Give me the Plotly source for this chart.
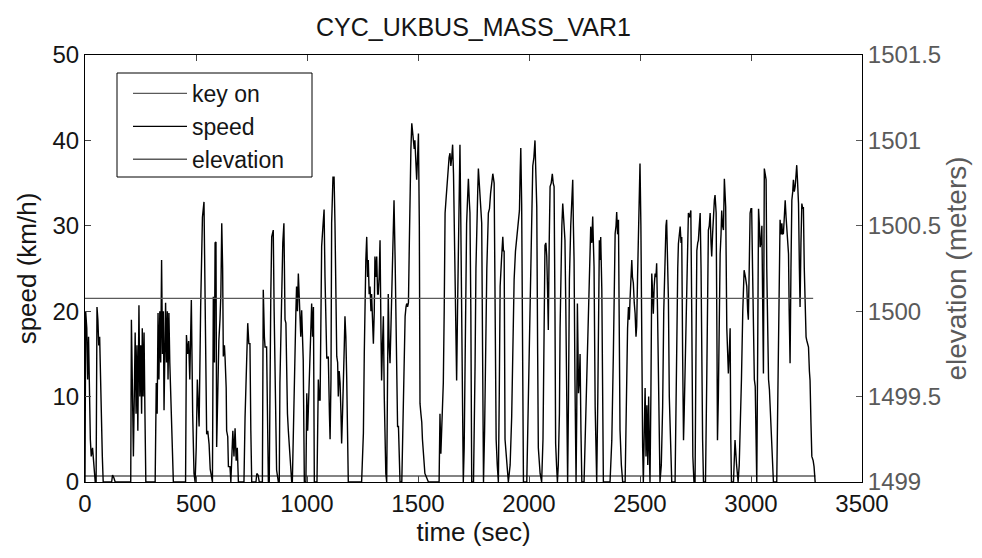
import plotly.graph_objects as go

# ---- data ----
speed_points = [
    (0, 0), (3, 20), (8, 18), (12, 12), (16, 17), (20, 8), (24, 5), (28, 3), (34, 4), (40, 2), (46, 0),
    (50, 0), (54, 20.5), (58, 19), (62, 16), (66, 17), (70, 11), (74, 8), (78, 3), (82, 0),
    (120, 0), (124, 0.8), (130, 0.5), (136, 0), (205, 0),
    (206, 0), (209, 19), (213, 12), (218, 3), (222, 10), (226, 17.5), (230, 8), (234, 16), (238, 6),
    (243, 20.7), (247, 10), (251, 16), (255, 8), (258, 18), (262, 10), (266, 17.5), (270, 8), (274, 0),
    (316, 0), (321, 11.6), (325, 8), (329, 19.8), (333, 12), (337, 20), (341, 14), (345, 26), (349, 15),
    (353, 20), (356, 8.4), (360, 18), (363, 21), (367, 14), (371, 20), (374, 12), (378, 19.8), (382, 14),
    (386, 10), (389, 6.9), (393, 3), (398, 0),
    (453, 0), (457, 17.2), (462, 15), (467, 16.5), (472, 12), (479, 21.3), (485, 8), (491, 1), (496, 0),
    (501, 4), (506, 12), (514, 6.5), (521, 20.5), (529, 31), (536, 32.8), (539, 26.6), (544, 15),
    (548, 5.6), (553, 6), (559, 4.4), (564, 1.5), (570, 0.5), (574, 0), (578, 21.7), (583, 14), (586, 28),
    (590, 28.1), (593, 4.1), (598, 12), (603, 16.6), (608, 19), (612, 22), (616, 30.3), (620, 25),
    (623, 14.7), (628, 16), (631, 14.5), (636, 11), (638, 6), (643, 5.3), (646, 1.8), (653, 1.8), (657, 0),
    (661, 2.5), (666, 6), (671, 3), (676, 6.3), (681, 2.5), (686, 4), (691, 0),
    (716, 0), (721, 7.6), (727, 12), (733, 18.6), (738, 16.2), (743, 16.2), (747, 6), (751, 0),
    (770, 0), (774, 1), (780, 0.8), (785, 0),
    (799, 0), (803, 22.5), (808, 17), (811, 15.8), (818, 15.8), (822, 8), (826, 0),
    (830, 0), (833, 14.5), (837, 22), (841, 28.7), (848, 29.5), (852, 20), (856, 10.7), (859, 3.3),
    (863, 1.4), (871, 0),
    (875, 0), (878, 11.6), (882, 18), (886, 25.2), (891, 28), (896, 30.3), (901, 19), (905, 18.6),
    (908, 10.4), (912, 8), (916, 6), (923, 3), (931, 0),
    (934, 0), (938, 6), (942, 12), (946, 17), (950, 20), (953, 22.9), (957, 20), (961, 24.4), (965, 22),
    (968, 20.9), (972, 17), (976, 20.1), (980, 14.3), (983, 14.3), (988, 0),
    (995, 0), (999, 10.4), (1003, 6), (1006, 8.4), (1010, 12), (1014, 16.6), (1018, 18), (1021, 20.9),
    (1025, 17), (1029, 20.5), (1033, 0),
    (1045, 0), (1051, 12), (1055, 9.6), (1059, 9.6), (1063, 20), (1066, 27.6), (1072, 30), (1077, 31.9),
    (1081, 24.1), (1085, 20), (1089, 14.5), (1093, 14.5), (1096, 14.7), (1101, 8), (1104, 5), (1108, 12),
    (1111, 30.3), (1117, 35.7), (1122, 35.7), (1126, 30.3), (1130, 22), (1134, 14.7), (1138, 14),
    (1141, 10), (1145, 13), (1149, 11.6), (1153, 8), (1156, 4.5), (1160, 8), (1164, 11), (1168, 16),
    (1171, 19.4), (1175, 17), (1179, 12), (1183, 5), (1186, 0),
    (1246, 0), (1250, 3), (1254, 5.7), (1258, 15), (1261, 22), (1265, 26), (1269, 28.7), (1273, 24),
    (1276, 26), (1280, 22), (1284, 22.9), (1288, 20), (1291, 22), (1295, 18), (1299, 16.2), (1303, 20),
    (1306, 26.4), (1310, 24), (1314, 26.4), (1318, 22), (1321, 22), (1325, 24), (1329, 28.3), (1333, 18),
    (1336, 11.9), (1340, 16), (1344, 19.4), (1348, 10), (1351, 4.5), (1355, 1), (1359, 0), (1362, 10),
    (1366, 22), (1370, 16), (1374, 13.9), (1378, 18), (1381, 22), (1386, 27), (1392, 33), (1397, 26),
    (1401, 17), (1404, 8.8), (1408, 6.5), (1412, 6.5), (1416, 3), (1419, 0), (1427, 0), (1431, 5),
    (1434, 10.8), (1438, 15), (1442, 19.4), (1446, 20.5), (1449, 20.9), (1453, 20.5), (1457, 21),
    (1461, 28), (1464, 35.4), (1468, 39), (1472, 42), (1476, 41), (1479, 40.4), (1483, 39), (1486, 40),
    (1490, 38), (1494, 35.4), (1498, 38), (1502, 40.8), (1506, 30), (1509, 9.2), (1513, 8), (1517, 7),
    (1520, 5), (1524, 3), (1531, 1), (1539, 0.5), (1547, 0),
    (1595, 0), (1599, 8), (1603, 3.3), (1607, 7.6), (1611, 10), (1614, 11.6), (1618, 20), (1622, 31.5),
    (1626, 33), (1631, 35), (1636, 37), (1640, 38), (1644, 38.5), (1648, 37), (1652, 38), (1656, 39.5),
    (1660, 36), (1663, 30), (1667, 25.2), (1671, 18), (1674, 11.9), (1678, 20), (1682, 30), (1686, 37),
    (1689, 39.5), (1693, 30), (1697, 17.8), (1701, 8), (1704, 0), (1708, 4), (1712, 15), (1716, 25),
    (1719, 30.3), (1723, 33), (1727, 35.5), (1731, 33), (1734, 31.5), (1738, 20), (1742, 0), (1750, 0),
    (1754, 6), (1757, 13.5), (1761, 25), (1765, 31.5), (1769, 34), (1772, 36.7), (1776, 35), (1780, 34),
    (1784, 31), (1787, 30.3), (1791, 15), (1795, 0), (1800, 6), (1805, 19.7), (1810, 25), (1817, 31.5),
    (1822, 32), (1827, 33.8), (1832, 35), (1837, 36.1), (1843, 35), (1848, 20), (1852, 5), (1857, 2),
    (1862, 0), (1866, 10), (1870, 22.9), (1876, 26), (1882, 28.7), (1885, 27), (1888, 27.1), (1892, 5),
    (1900, 2), (1907, 0), (1915, 2), (1922, 7.6), (1927, 15), (1933, 23.7), (1939, 27), (1945, 28.7),
    (1951, 30), (1957, 31.8), (1960, 36), (1963, 39.1), (1967, 32.5), (1971, 15), (1975, 0), (1990, 0),
    (1997, 10.8), (2003, 20), (2008, 27.1), (2013, 33), (2017, 37), (2022, 38), (2027, 40), (2031, 36),
    (2035, 32.2), (2039, 15), (2042, 4), (2050, 1), (2057, 0), (2063, 5), (2068, 18), (2072, 27.7),
    (2076, 28), (2080, 26.4), (2084, 22), (2087, 17.8), (2091, 28), (2095, 34.6), (2100, 35), (2105, 36.1),
    (2109, 35), (2113, 34.6), (2117, 20), (2120, 4.5), (2124, 2), (2128, 0), (2132, 2), (2137, 8),
    (2140, 18), (2143, 24.8), (2148, 30), (2152, 32.6), (2157, 30), (2162, 28.3), (2166, 20), (2170, 3.4),
    (2174, 0), (2178, 10), (2182, 23.7), (2188, 30), (2193, 33.8), (2197, 35.4), (2200, 30), (2203, 26),
    (2207, 12), (2212, 0), (2215, 8), (2218, 20.9), (2221, 15), (2223, 10.4), (2227, 12), (2230, 15),
    (2234, 6), (2238, 0), (2248, 0), (2253, 5), (2260, 12), (2268, 20.5), (2273, 26), (2278, 29.9),
    (2283, 28), (2287, 31.1), (2290, 28), (2293, 25.2), (2298, 8.8), (2305, 0), (2310, 10), (2317, 28.3),
    (2320, 26), (2323, 28.7), (2328, 22.5), (2332, 5), (2335, 0), (2365, 0), (2373, 4.9), (2380, 15),
    (2388, 29.1), (2392, 30), (2395, 31.6), (2399, 29), (2403, 30.7), (2406, 20), (2410, 6.1), (2416, 2),
    (2422, 0), (2433, 0), (2440, 13.1), (2444, 18), (2448, 20.5), (2452, 19), (2455, 21.3), (2459, 23),
    (2463, 26), (2466, 24), (2470, 23.3), (2474, 21), (2478, 19.7), (2482, 17), (2485, 18.2), (2489, 24),
    (2493, 29.1), (2497, 34), (2500, 37.3), (2504, 30), (2508, 11.2), (2512, 4), (2515, 0), (2519, 5),
    (2523, 11), (2527, 3), (2531, 9), (2535, 2), (2539, 10), (2542, 4), (2545, 0), (2549, 10),
    (2553, 24.4), (2557, 22), (2560, 19.7), (2564, 23), (2568, 24.4), (2572, 24), (2575, 25.6), (2579, 20),
    (2583, 13.1), (2587, 5), (2590, 0), (2596, 2), (2602, 8.8), (2607, 20), (2613, 28.3), (2617, 30),
    (2620, 30.7), (2624, 26), (2628, 21.3), (2632, 10), (2636, 4.9), (2643, 0), (2658, 0), (2662, 10),
    (2666, 22.1), (2670, 25), (2673, 27.9), (2677, 29), (2681, 29.9), (2685, 28), (2688, 28.7), (2692, 15),
    (2696, 4.9), (2699, 8), (2703, 12.7), (2707, 17), (2711, 21.3), (2715, 27), (2718, 31.5), (2723, 31),
    (2729, 31.8), (2733, 20), (2738, 3), (2743, 0), (2748, 0), (2752, 15), (2756, 27.1), (2760, 28),
    (2763, 28.3), (2767, 30), (2771, 31.5), (2775, 25), (2778, 15), (2782, 5), (2786, 0), (2795, 0),
    (2801, 12.7), (2805, 22), (2808, 29.5), (2812, 30), (2816, 31.5), (2820, 28), (2823, 26.4), (2827, 29),
    (2831, 32.2), (2835, 33), (2838, 33.6), (2843, 31.5), (2847, 15), (2849, 4.9), (2853, 10), (2857, 20),
    (2861, 26.7), (2865, 29), (2868, 31.8), (2872, 30), (2876, 29.5), (2880, 35.5), (2883, 34), (2886, 32.2),
    (2891, 18), (2895, 14), (2898, 12.7), (2902, 15), (2906, 18), (2909, 5), (2912, 0), (2921, 0),
    (2928, 4.9), (2935, 2), (2942, 0), (2947, 2), (2951, 5), (2957, 12), (2963, 20.1), (2966, 22),
    (2969, 24.8), (2975, 24), (2981, 22.9), (2985, 20), (2988, 19), (2992, 25), (2996, 31.5), (3000, 32),
    (3003, 32), (3007, 25), (3011, 16.6), (3015, 12), (3019, 11.2), (3023, 5), (3026, 0), (3030, 15),
    (3034, 32), (3038, 30), (3041, 27.5), (3045, 28), (3049, 30), (3053, 20), (3056, 12.7), (3060, 36.7),
    (3064, 36), (3068, 35.4), (3071, 25), (3074, 16.6), (3079, 12), (3083, 10.8), (3088, 8), (3094, 4.9),
    (3098, 2), (3101, 0), (3116, 0), (3122, 12), (3127, 25), (3131, 30.7), (3135, 29), (3139, 30.3),
    (3142, 29), (3146, 29.1), (3150, 31), (3154, 33), (3158, 31), (3161, 30), (3165, 28), (3169, 26.7),
    (3172, 20), (3176, 13.9), (3180, 25), (3184, 33), (3188, 34), (3191, 35.4), (3195, 34), (3199, 34.6),
    (3203, 36), (3206, 37.1), (3210, 35), (3214, 32.6), (3218, 25), (3221, 20.5), (3225, 28), (3229, 32.6),
    (3233, 32), (3236, 32.2), (3240, 25), (3244, 19.4), (3248, 17), (3251, 16.6), (3255, 16), (3259, 15.8),
    (3263, 13), (3266, 11.9), (3270, 7), (3274, 3), (3280, 2.5), (3284, 1.8), (3289, 0),
]
time_s = [p[0] for p in speed_points]
speed_kmh = [p[1] for p in speed_points]

key_on_time = [0, 3290]
key_on_value = [0.7, 0.7]

elevation_time = [0, 3280]
elevation_m = [1500.075, 1500.075]

x_ticks = [0, 500, 1000, 1500, 2000, 2500, 3000, 3500]
y_ticks = [0, 10, 20, 30, 40, 50]
y2_ticks = [1499, 1499.5, 1500, 1500.5, 1501, 1501.5]
y2_labels = ["1499", "1499.5", "1500", "1500.5", "1501", "1501.5"]

FONT = "Liberation Sans, Arial, sans-serif"
GRAY = "#5a5a5a"
TXT = "#151515"

fig = go.Figure()
fig.add_trace(go.Scatter(x=key_on_time, y=key_on_value, name="key on", mode="lines",
                         line=dict(color=GRAY, width=1.3)))
fig.add_trace(go.Scatter(x=time_s, y=speed_kmh, name="speed", mode="lines",
                         line=dict(color="black", width=1.4)))
fig.add_trace(go.Scatter(x=elevation_time, y=elevation_m, name="elevation", mode="lines",
                         yaxis="y2", line=dict(color=GRAY, width=1.3)))

axis_common = dict(showgrid=False, zeroline=False, ticks="inside", ticklen=6,
                   showline=True, linecolor="black", linewidth=1)

# legend frame (MATLAB-style opaque box)
fig.add_shape(type="rect", xref="paper", yref="paper",
              x0=(117 - 85) / 777, x1=(312 - 85) / 777,
              y0=(482 - 177) / 427, y1=(482 - 73) / 427,
              line=dict(color="black", width=1), fillcolor="white", layer="above")

fig.update_layout(
    width=982, height=558,
    margin=dict(l=85, r=120, t=55, b=76),
    paper_bgcolor="white", plot_bgcolor="white",
    font=dict(family=FONT, size=24, color=TXT),
    title=dict(text="CYC_UKBUS_MASS_VAR1", x=0.5, xref="paper", xanchor="center",
               y=1 - 27 / 558, yref="container", yanchor="middle",
               font=dict(size=25, family=FONT, color=TXT)),
    xaxis=dict(range=[0, 3500], tickvals=x_ticks, mirror="ticks",
               title=dict(text="time (sec)", standoff=6, font=dict(size=26)),
               tickfont=dict(size=24), **axis_common),
    yaxis=dict(range=[0, 50], tickvals=y_ticks, mirror=True,
               title=dict(text="speed (km/h)", standoff=8, font=dict(size=26)),
               tickfont=dict(size=24), **axis_common),
    yaxis2=dict(range=[1499, 1501.5], tickvals=y2_ticks, ticktext=y2_labels,
                overlaying="y", side="right", showgrid=False, zeroline=False,
                ticks="inside", ticklen=6, tickcolor=GRAY, showline=True,
                linecolor="black", linewidth=1,
                tickfont=dict(size=24, color=GRAY),
                title=dict(text="elevation (meters)", standoff=6,
                           font=dict(size=28, color=GRAY))),
    legend=dict(x=(128 - 85) / 777, y=(482 - 72) / 427, xanchor="left", yanchor="top",
                borderwidth=0, bgcolor="rgba(0,0,0,0)", itemwidth=54,
                font=dict(size=23, family=FONT, color=TXT), tracegroupgap=0),
    showlegend=True,
)

fig.write_html("out.html")
